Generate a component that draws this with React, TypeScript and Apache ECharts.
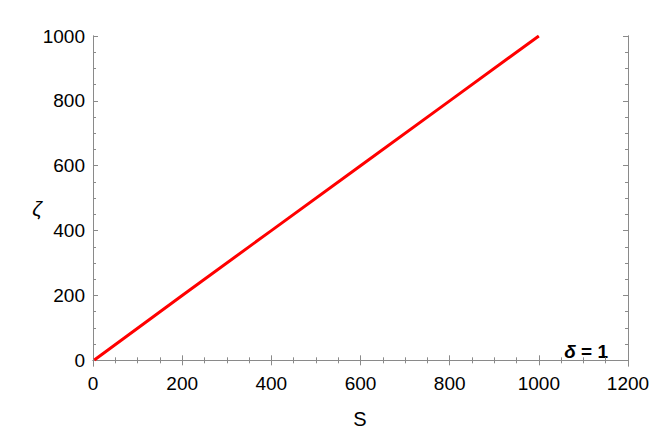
import React, { useEffect, useRef } from "react";
import * as echarts from "echarts";

const sValues = [3, 200, 400, 600, 800, 1000];
const zetaValues = [1, 200, 400, 600, 800, 1000];
const yMajorTicks = [0, 200, 400, 600, 800, 1000];
const yMinorTicks = [0, 50, 100, 150, 200, 250, 300, 350, 400, 450, 500, 550, 600, 650, 700, 750, 800, 850, 900, 950, 1000];
const xAxisName = "S";
const yAxisName = "ζ";

const FRAME = "#8a8a8a";
const FONT = "Liberation Sans";
const Y_MIN = -17.5;
const Y_MAX = 1000;

export default function App() {
  const ref = useRef<HTMLDivElement>(null);
  useEffect(() => {
    if (!ref.current) return;
    const chart = echarts.init(ref.current, null, { renderer: "svg" });
    const fmt = (v: number) => String(v);
    const baseY = (position: string, ticks: number[], len: number, labels: boolean) => ({
      type: "value",
      position,
      min: Y_MIN,
      max: Y_MAX,
      axisLine: { show: true, lineStyle: { color: FRAME, width: 1 } },
      axisTick: { show: true, inside: true, length: len, customValues: ticks, lineStyle: { color: FRAME, width: 1 } },
      axisLabel: labels
        ? { show: true, customValues: yMajorTicks, formatter: fmt, color: "#000", fontSize: 19, fontFamily: FONT, margin: 8 }
        : { show: false },
      splitLine: { show: false },
    });
    const baseX = (position: string, labels: boolean) => ({
      type: "value",
      position,
      min: 0,
      max: 1200,
      interval: 200,
      axisLine: { show: true, lineStyle: { color: FRAME, width: 1 } },
      axisTick: { show: true, inside: true, length: 5, lineStyle: { color: FRAME, width: 1 } },
      minorTick: { show: true, splitNumber: 4, length: 3, lineStyle: { color: FRAME, width: 1 } },
      axisLabel: labels
        ? { show: true, formatter: fmt, color: "#000", fontSize: 19, fontFamily: FONT, margin: 8 }
        : { show: false },
      splitLine: { show: false },
      minorSplitLine: { show: false },
    });
    chart.setOption({
      animation: false,
      backgroundColor: "#fff",
      grid: { left: 93, right: 36, top: 36, bottom: 68 },
      xAxis: [baseX("bottom", true), baseX("top", false)],
      yAxis: [
        baseY("left", yMajorTicks, 5, true),
        baseY("left", yMinorTicks, 3, false),
        baseY("right", yMajorTicks, 5, false),
        baseY("right", yMinorTicks, 3, false),
      ],
      series: [
        {
          type: "line",
          xAxisIndex: 0,
          yAxisIndex: 0,
          data: sValues.map((s, i) => [s, zetaValues[i]]),
          showSymbol: false,
          lineStyle: { color: "#ff0000", width: 3 },
          clip: true,
        },
      ],
      graphic: [
        {
          type: "text",
          x: 360,
          y: 419,
          style: { text: xAxisName, fontSize: 20, fontFamily: FONT, fill: "#000", textAlign: "center", textVerticalAlign: "middle" },
        },
        {
          type: "text",
          x: 37,
          y: 208,
          style: { text: yAxisName, fontSize: 21, fontStyle: "italic", fontFamily: FONT, fill: "#000", textAlign: "center", textVerticalAlign: "middle" },
        },
        {
          type: "text",
          x: 608,
          y: 351,
          style: {
            text: "{d|δ}{n| = 1}",
            rich: {
              d: { fontSize: 19, fontWeight: "bold", fontStyle: "italic", fontFamily: FONT, fill: "#000" },
              n: { fontSize: 19, fontWeight: "bold", fontFamily: FONT, fill: "#000" },
            },
            textAlign: "right",
            textVerticalAlign: "middle",
          },
        },
      ],
    });
    return () => chart.dispose();
  }, []);
  return <div ref={ref} style={{ width: 664, height: 434, position: "absolute", left: 0, top: 0 }} />;
}
